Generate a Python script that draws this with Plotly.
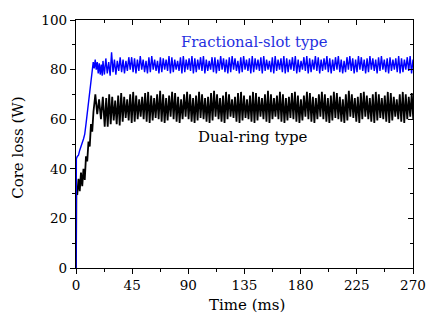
import numpy as np
import plotly.graph_objects as go

# ---------------- data ----------------
time_ticks = [0, 45, 90, 135, 180, 225, 270]
loss_ticks = [0, 20, 40, 60, 80, 100]

# Dual-ring type: start-up transient
black_early_t = [0, 0.3, 1.0, 2.0, 3.0, 4.0, 5.0, 6.0, 7.0, 8.0, 9.0, 10.0,
                 11.0, 12.0, 13.0, 14.0, 15.5, 17.0, 18.5, 20.0, 21.5, 23.0]
black_early_v = [0, 30, 29.5, 36, 31, 38.5, 33, 40, 35.5, 45, 43, 51,
                 49, 58, 55, 63, 70, 62, 68, 60, 69, 57]
black_start = 24.2
black_step = 1.2  # half period of the ripple (ms)
black_peaks = [
    68.5, 70, 69, 67.5, 69.5, 70.5, 69, 68, 70, 71,
    69.5, 68, 69, 70.5, 71, 69.5, 68.5, 70, 71.5, 70,
    68.5, 69.5, 71, 70.5, 69, 68, 70, 71, 70, 68.5,
    69.5, 71, 70, 68.5, 69, 70.5, 71.5, 70, 68.5, 69.5,
    71, 70, 68, 69, 70.5, 71, 69.5, 68, 69.5, 71,
    70.5, 69, 68.5, 70, 71.5, 70, 68.5, 69.5, 71, 70,
    68.5, 69, 70.5, 71, 69.5, 68, 69.5, 71, 70.5, 69,
    68.5, 70, 71, 70, 68.5, 69.5, 71, 70.5, 69, 68,
    70, 71.5, 70, 68.5, 69, 70.5, 71, 69.5, 68.5, 70,
    71, 70, 68.5, 69.5, 71, 70.5, 69, 68, 70, 71,
    70, 69, 70.5]
black_troughs = [
    57, 58, 59.5, 58, 57.5, 59, 60.5, 59.5, 58.5, 59,
    60, 61, 60, 59, 58.5, 59.5, 60.5, 60, 59, 58.5,
    59.5, 61, 60, 59, 58.5, 60, 61, 60, 59, 58.5,
    59.5, 60.5, 60, 59, 58.5, 59.5, 61, 60, 59, 58.5,
    60, 61, 60.5, 59, 58.5, 59.5, 60.5, 60, 59, 58.5,
    59.5, 61, 60, 59, 58.5, 60, 61, 60, 59, 58.5,
    59.5, 60.5, 60, 59, 58.5, 59.5, 61, 60, 59, 58.5,
    60, 61, 60, 59, 58.5, 59.5, 60.5, 60, 59, 58.5,
    59.5, 61, 60.5, 59, 58.5, 60, 61, 60, 59, 58.5,
    59.5, 60.5, 60, 59, 58.5, 59.5, 61, 60, 59, 58.5,
    60, 61, 60]

# Fractional-slot type: start-up transient
blue_early_t = [0, 0.3, 1.0, 2.0, 3.0, 4.0, 5.0, 6.0, 7.0, 8.0, 9.0, 10.0,
                11.0, 12.0, 13.0, 13.8, 14.6, 15.4, 16.2, 17.0, 17.8, 18.6,
                19.4, 20.2, 21.0]
blue_early_v = [0, 44, 45, 45.5, 47.5, 49.5, 50.5, 52, 54, 58, 62, 66,
                70.5, 75, 80, 83, 80.5, 84, 80, 83, 78.5, 82.5,
                78, 82, 77.5]
blue_start = 21.6
blue_step = 1.15
blue_peaks = [
    83.5, 84.5, 83, 87, 84, 83.5, 85, 84, 83.5, 85,
    85, 84.5, 84, 85.5, 84, 83.5, 85, 85.5, 84, 83.5,
    85, 84.5, 84, 85.5, 85, 84, 83.5, 85, 85.5, 84,
    84.5, 85.5, 84.5, 84, 85, 85.5, 84, 83.5, 85, 85,
    84, 85.5, 84.5, 84, 85, 85.5, 84.5, 83.5, 85, 85.5,
    84, 84.5, 85.5, 84.5, 84, 85, 85.5, 84, 83.5, 85,
    85.5, 84, 84.5, 85.5, 84.5, 84, 85, 85.5, 84, 83.5,
    85, 85.5, 84.5, 84, 85.5, 85, 84, 84.5, 85.5, 84.5,
    84, 85, 85.5, 84, 83.5, 85, 85.5, 84.5, 84, 85.5,
    85, 84, 84.5, 85.5, 84.5, 84, 85, 85.5, 84, 84.5,
    85, 84, 84.5, 85.5, 84.5, 84, 85, 85.5, 84]
blue_troughs = [
    78, 78.5, 77.5, 79, 78, 79.5, 79, 78.5, 79.5, 80,
    79, 78.5, 79.5, 80, 79, 78.5, 79, 80, 79.5, 78.5,
    79, 80, 79.5, 78.5, 79, 80, 79.5, 78.5, 79, 80,
    79.5, 78.5, 79, 80, 79.5, 78.5, 79.5, 80, 79, 78.5,
    79.5, 80, 79, 78.5, 79, 80, 79.5, 78.5, 79, 80,
    79.5, 78.5, 79, 80, 79.5, 78.5, 79.5, 80, 79, 78.5,
    79.5, 80, 79, 78.5, 79, 80, 79.5, 78.5, 79, 80,
    79.5, 78.5, 79, 80, 79.5, 78.5, 79.5, 80, 79, 78.5,
    79.5, 80, 79, 78.5, 79, 80, 79.5, 78.5, 79, 80,
    79.5, 78.5, 79, 80, 79.5, 78.5, 79.5, 80, 79, 78.5,
    79.5, 80, 79, 78.5, 79, 80, 79.5, 78.5, 79]

label_blue = "Fractional-slot type"
label_black = "Dual-ring type"

# ---------------- build series ----------------
def ripple(start, step, peaks, troughs):
    vals = []
    for p, q in zip(peaks, troughs):
        vals += [p, q]
    t = start + step * np.arange(len(vals))
    return list(t), vals

bt, bv = ripple(black_start, black_step, black_peaks, black_troughs)
black_t = black_early_t + bt
black_v = black_early_v + bv
ct, cv = ripple(blue_start, blue_step, blue_peaks, blue_troughs)
blue_t = blue_early_t + ct
blue_v = blue_early_v + cv

FONT = "DejaVu Serif"

fig = go.Figure()
fig.add_trace(go.Scatter(x=black_t, y=black_v, mode="lines",
                         line=dict(color="black", width=1.8), showlegend=False))
fig.add_trace(go.Scatter(x=blue_t, y=blue_v, mode="lines",
                         line=dict(color="#0000ff", width=1.4), showlegend=False))
# dummy trace for mirrored axes
fig.add_trace(go.Scatter(x=[None], y=[None], xaxis="x2", yaxis="y2",
                         showlegend=False, hoverinfo="skip"))

axis_common = dict(showgrid=False, zeroline=False, showline=True,
                   linecolor="black", linewidth=1.3, tickcolor="black",
                   tickwidth=1.2, ticklen=5,
                   tickfont=dict(family=FONT, size=13.5, color="black"))

fig.update_layout(
    width=438, height=321,
    margin=dict(l=76, r=17, t=15, b=53),
    paper_bgcolor="white", plot_bgcolor="white",
    font=dict(family=FONT),
    xaxis=dict(range=[0, 270], tickvals=time_ticks, ticks="outside",
               minor=dict(ticks="outside", dtick=22.5, tick0=0, ticklen=3,
                          tickcolor="black", tickwidth=1.2),
               **axis_common),
    yaxis=dict(range=[0, 100], tickvals=loss_ticks, ticks="outside",
               minor=dict(ticks="outside", dtick=10, tick0=0, ticklen=3,
                          tickcolor="black", tickwidth=1.2),
               **axis_common),
    xaxis2=dict(range=[0, 270], overlaying="x", side="top", anchor="y2",
                tickvals=time_ticks, ticks="inside", showticklabels=False,
                minor=dict(ticks="inside", dtick=22.5, tick0=0, ticklen=3,
                           tickcolor="black", tickwidth=1.2),
                **axis_common),
    yaxis2=dict(range=[0, 100], overlaying="y", side="right", anchor="x2",
                tickvals=loss_ticks, ticks="inside", showticklabels=False,
                minor=dict(ticks="inside", dtick=10, tick0=0, ticklen=3,
                           tickcolor="black", tickwidth=1.2),
                **axis_common),
    annotations=[
        dict(x=143, y=91.3, xref="x", yref="y", text=label_blue,
             xanchor="center", yanchor="middle",
             showarrow=False, font=dict(family=FONT, size=14.8, color="#1f2fe0")),
        dict(x=142, y=53, xref="x", yref="y", text=label_black,
             xanchor="center", yanchor="middle",
             showarrow=False, font=dict(family=FONT, size=15, color="black")),
        dict(x=0.507, y=-0.150, xref="paper", yref="paper", text="Time (ms)",
             xanchor="center", yanchor="middle",
             showarrow=False, font=dict(family=FONT, size=15, color="black")),
        dict(x=-0.171, y=0.486, xref="paper", yref="paper", text="Core loss (W)",
             xanchor="center", yanchor="middle",
             textangle=-90, showarrow=False,
             font=dict(family=FONT, size=15, color="black")),
    ],
)

fig.write_html("out.html")
